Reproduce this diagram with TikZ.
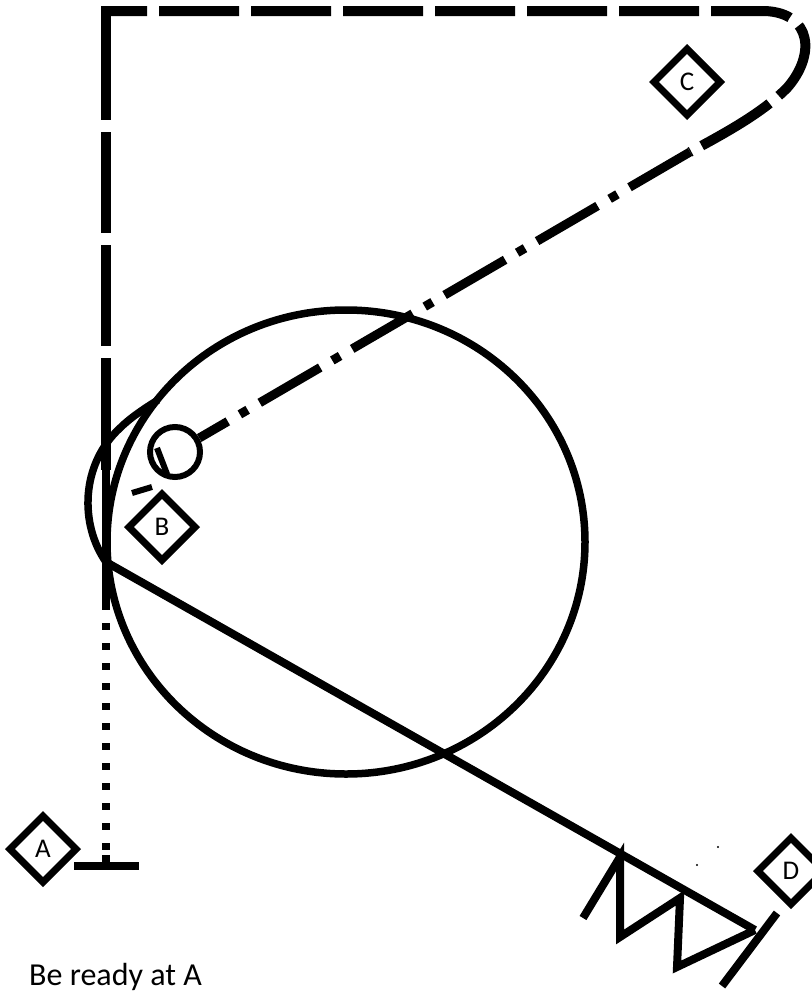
\documentclass[tikz,border=0pt]{standalone}
\usepackage{fontspec}
\setmainfont{Carlito}
\usetikzlibrary{shapes.geometric}
\begin{document}
\begin{tikzpicture}[x=1pt,y=-1pt,
  waypt/.style={draw, shape=diamond, line width=7pt, minimum width=69pt, minimum height=69pt, inner sep=0pt, font=\fontsize{27}{30}\selectfont},
  thickline/.style={line width=7.5pt, line cap=butt},
  longdash/.style={line width=10pt, dash pattern=on 80pt off 12pt},
  dashdot/.style={line width=9pt, dash pattern=on 70pt off 14pt on 9pt off 14pt},
  dotline/.style={line width=8pt, dash pattern=on 7pt off 13pt}
]
\useasboundingbox (0,0) rectangle (811,993);

% key coordinates
\coordinate (vbot) at (106,470);
\coordinate (junction) at (106,562);
\coordinate (dotstart) at (106,603);
\coordinate (tstem) at (106,866);
\coordinate (tl) at (74,866);
\coordinate (tr) at (139,866);
\coordinate (topend) at (765,11);
\coordinate (bend) at (690,152);
\coordinate (scirc) at (175,452);
\coordinate (lineend) at (755,930);

% diamonds
\node[waypt] (A) at (43,849) {A};
\node[waypt] (B) at (162,527) {B};
\node[waypt] (C) at (687,82) {C};
\node[waypt] (D) at (791,871) {D};

% big circle
\draw[line width=7.5pt] (346,542) ellipse [x radius=239, y radius=232];

% small circle
\node[draw, circle, line width=6pt, minimum size=50pt, inner sep=0pt] (sc) at (scirc) {};

% vertical dashed line
\draw[line width=10pt, dash pattern=on 114pt off 12pt on 101pt off 12pt on 101pt off 12pt on 200pt] (106,6) -- (vbot);
% top dashed line and bend
\draw[longdash, dash phase=34pt] (101,11) -- (topend)
   .. controls (812,13) and (816,55) .. (787,88)
   .. controls (765,110) and (735,128) .. (bend);
% dash-dot diagonal
\draw[dashdot] (bend) -- (sc.30);

% solid vertical piece
\draw[line width=8pt] (vbot) -- (dotstart);
% dotted line
\draw[dotline] (dotstart) -- (tstem);
\draw[line width=8pt] (106,855) -- (tstem);
\draw[line width=8pt] (tl) -- (tr);

% hook
\draw[thickline] (junction) .. controls (80,525) and (80,465) .. (120,428)
   .. controls (130,418) and (145,408) .. (158,400);

% strokes near small circle
\draw[line width=6pt] (157,448) -- (167,474);
\draw[line width=6pt] (132,493) -- (152,487);

% long diagonal to D
\draw[line width=8pt] (junction) -- (lineend);
% zigzag
\draw[line width=8pt, line join=miter] (583,918) -- (620,857) -- (620,937) -- (680,898) -- (677,967) -- (lineend);
% end bar
\draw[line width=8pt] (777,913) -- (722,986);

% specks
\fill (718,847) circle (1.2);
\fill (697,865) circle (1.2);

% caption
\node[anchor=base west, inner sep=0pt, font=\fontsize{32}{38}\selectfont] (cap) at (29,985) {Be ready at A};
\end{tikzpicture}
\end{document}
